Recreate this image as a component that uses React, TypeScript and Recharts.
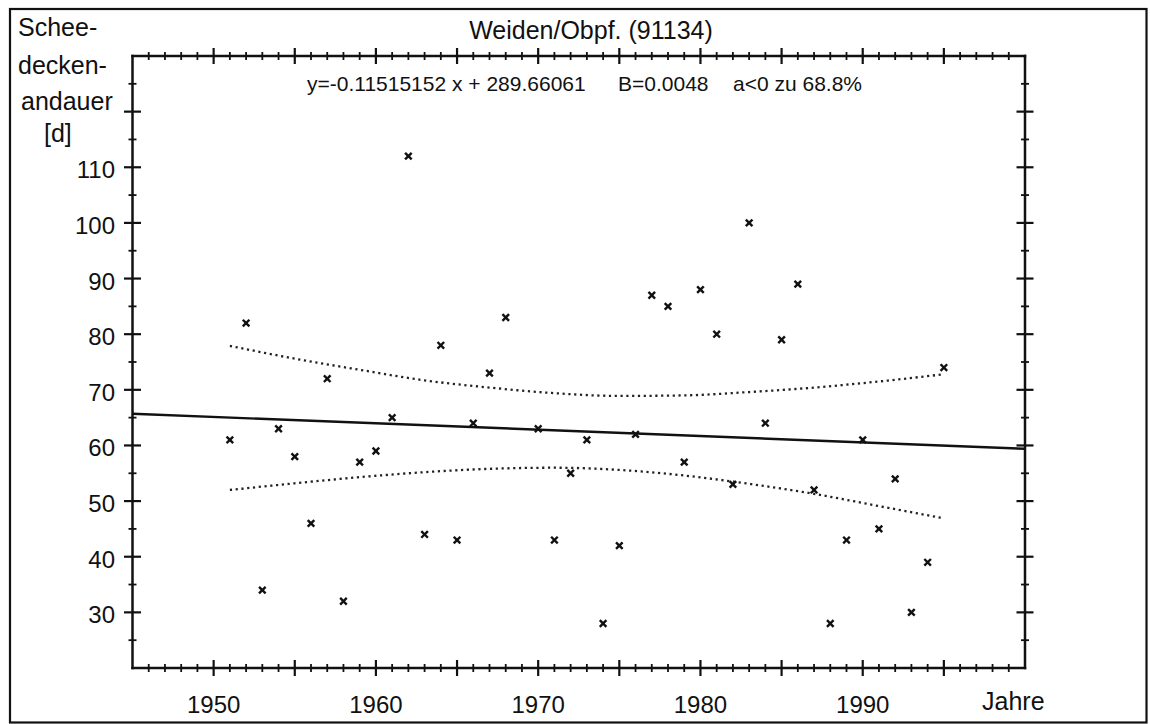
import React from 'react';
import { ComposedChart, XAxis, YAxis, Scatter, Line } from 'recharts';

// ---- data ----
const YEARS = [1951, 1952, 1953, 1954, 1955, 1956, 1957, 1958, 1959, 1960, 1961, 1962, 1963, 1964, 1965, 1966, 1967, 1968, 1970, 1971, 1972, 1973, 1974, 1975, 1976, 1977, 1978, 1979, 1980, 1981, 1982, 1983, 1984, 1985, 1986, 1987, 1988, 1989, 1990, 1991, 1992, 1993, 1994, 1995];
const SNOW_DAYS = [61, 82, 34, 63, 58, 46, 72, 32, 57, 59, 65, 112, 44, 78, 43, 64, 73, 83, 63, 43, 55, 61, 28, 42, 62, 87, 85, 57, 88, 80, 53, 100, 64, 79, 89, 52, 28, 43, 61, 45, 54, 30, 39, 74];

const TREND_YEARS = [1945, 2000];
const TREND_VALUES = [65.7, 59.4];

const BAND_YEARS = [1951, 1955, 1959, 1963, 1967, 1971, 1975, 1979, 1983, 1987, 1991, 1995];
const BAND_UPPER = [77.9, 75.6, 73.6, 71.7, 70.4, 69.4, 68.9, 69.0, 69.6, 70.4, 71.5, 72.8];
const BAND_LOWER = [52.0, 53.2, 54.3, 55.2, 55.8, 56.0, 55.6, 54.6, 53.1, 51.3, 49.1, 46.9];

const X_DOMAIN = [1945, 2000];
const Y_DOMAIN = [20, 130];
const X_TICKS = [1946, 1947, 1948, 1949, 1950, 1951, 1952, 1953, 1954, 1955, 1956, 1957, 1958, 1959, 1960, 1961, 1962, 1963, 1964, 1965, 1966, 1967, 1968, 1969, 1970, 1971, 1972, 1973, 1974, 1975, 1976, 1977, 1978, 1979, 1980, 1981, 1982, 1983, 1984, 1985, 1986, 1987, 1988, 1989, 1990, 1991, 1992, 1993, 1994, 1995, 1996, 1997, 1998, 1999];
const X_LABELS = [1950, 1960, 1970, 1980, 1990];
const Y_TICKS = [25, 30, 35, 40, 45, 50, 55, 60, 65, 70, 75, 80, 85, 90, 95, 100, 105, 110, 115, 120, 125];
const Y_LABELS = [30, 40, 50, 60, 70, 80, 90, 100, 110];

const TITLE = 'Weiden/Obpf. (91134)';
const EQUATION = ['y=-0.11515152 x + 289.66061', 'B=0.0048', 'a<0 zu 68.8%'];
const Y_TITLE = ['Schee-', 'decken-', 'andauer', '[d]'];
const X_TITLE = 'Jahre';

// ---- derived tables ----
const points = YEARS.map((year, i) => ({ year, value: SNOW_DAYS[i] }));
const trend = TREND_YEARS.map((year, i) => ({ year, value: TREND_VALUES[i] }));
const upper = BAND_YEARS.map((year, i) => ({ year, value: BAND_UPPER[i] }));
const lower = BAND_YEARS.map((year, i) => ({ year, value: BAND_LOWER[i] }));

const FONT = '"Liberation Sans", Arial, Helvetica, sans-serif';
const INK = '#111111';

const makeXTick = (side: 'top' | 'bottom') => (p: any) => {
  const { x, y, payload } = p;
  const v = payload.value;
  const major = v % 5 === 0;
  const h = major ? 8 : 4;
  return (
    <g key={`xt-${side}-${v}`}>
      <line x1={x} x2={x} y1={y - h} y2={y + h} stroke={INK} strokeWidth={major ? 2.2 : 1.8} />
      {side === 'bottom' && X_LABELS.includes(v) && (
        <text x={x} y={y + 45} textAnchor="middle" fontSize={24} fontFamily={FONT} fill={INK}>
          {v}
        </text>
      )}
    </g>
  );
};

const makeYTick = (side: 'left' | 'right') => (p: any) => {
  const { x, y, payload } = p;
  const v = payload.value;
  const major = v % 10 === 0;
  const h = major ? 8.5 : 4;
  return (
    <g key={`yt-${side}-${v}`}>
      <line x1={x - h} x2={x + h} y1={y} y2={y} stroke={INK} strokeWidth={major ? 2.2 : 1.8} />
      {side === 'left' && Y_LABELS.includes(v) && (
        <text x={x - 17.5} y={y + 11} textAnchor="end" fontSize={24} fontFamily={FONT} fill={INK}>
          {v}
        </text>
      )}
    </g>
  );
};

const Cross = (p: any) => {
  const { cx, cy } = p;
  if (cx == null || cy == null) return <g />;
  const s = 3.3;
  return (
    <g>
      <line x1={cx - s} y1={cy - s} x2={cx + s} y2={cy + s} stroke={INK} strokeWidth={2.4} />
      <line x1={cx - s} y1={cy + s} x2={cx + s} y2={cy - s} stroke={INK} strokeWidth={2.4} />
    </g>
  );
};

const axisLine = { stroke: INK, strokeWidth: 2.5, strokeLinecap: 'square' as const };

export default function App() {
  return (
    <div style={{ position: 'absolute', left: 0, top: 0, width: 1150, height: 724, background: '#fff' }}>
      <ComposedChart
        width={1150}
        height={724}
        margin={{ top: 55, right: 124, bottom: 55, left: 131.5 }}
      >
        <XAxis
          xAxisId="b"
          dataKey="year"
          type="number"
          orientation="bottom"
          domain={X_DOMAIN}
          allowDataOverflow
          ticks={X_TICKS}
          interval={0}
          height={1}
          tickSize={0}
          tickMargin={0}
          tickLine={false}
          axisLine={axisLine}
          tick={makeXTick('bottom')}
        />
        <XAxis
          xAxisId="t"
          dataKey="year"
          type="number"
          orientation="top"
          domain={X_DOMAIN}
          allowDataOverflow
          ticks={X_TICKS}
          interval={0}
          height={1}
          tickSize={0}
          tickMargin={0}
          tickLine={false}
          axisLine={axisLine}
          tick={makeXTick('top')}
        />
        <YAxis
          yAxisId="l"
          dataKey="value"
          type="number"
          orientation="left"
          domain={Y_DOMAIN}
          allowDataOverflow
          ticks={Y_TICKS}
          interval={0}
          width={1}
          tickSize={0}
          tickMargin={0}
          tickLine={false}
          axisLine={axisLine}
          tick={makeYTick('left')}
        />
        <YAxis
          yAxisId="r"
          dataKey="value"
          type="number"
          orientation="right"
          domain={Y_DOMAIN}
          allowDataOverflow
          ticks={Y_TICKS}
          interval={0}
          width={1}
          tickSize={0}
          tickMargin={0}
          tickLine={false}
          axisLine={axisLine}
          tick={makeYTick('right')}
        />
        <Line
          xAxisId="b"
          yAxisId="l"
          data={upper}
          dataKey="value"
          type="monotone"
          stroke="#222"
          strokeWidth={2.3}
          strokeDasharray="2.2 3.6"
          dot={false}
          activeDot={false}
          isAnimationActive={false}
        />
        <Line
          xAxisId="b"
          yAxisId="l"
          data={lower}
          dataKey="value"
          type="monotone"
          stroke="#222"
          strokeWidth={2.3}
          strokeDasharray="2.2 3.6"
          dot={false}
          activeDot={false}
          isAnimationActive={false}
        />
        <Line
          xAxisId="b"
          yAxisId="l"
          data={trend}
          dataKey="value"
          type="linear"
          stroke={INK}
          strokeWidth={2.4}
          dot={false}
          activeDot={false}
          isAnimationActive={false}
        />
        <Scatter
          xAxisId="b"
          yAxisId="l"
          data={points}
          dataKey="value"
          shape={Cross}
          isAnimationActive={false}
        />
      </ComposedChart>
      <svg
        width={1150}
        height={724}
        style={{ position: 'absolute', left: 0, top: 0, pointerEvents: 'none' }}
      >
        <rect x={10} y={9} width={1136.5} height={713.5} fill="none" stroke={INK} strokeWidth={2.2} />
        <text x={591} y={39} textAnchor="middle" fontSize={25} fontFamily={FONT} fill={INK}>
          {TITLE}
        </text>
        <text x={307} y={91} fontSize={21} fontFamily={FONT} fill={INK}>{EQUATION[0]}</text>
        <text x={618} y={91} fontSize={21} fontFamily={FONT} fill={INK}>{EQUATION[1]}</text>
        <text x={733} y={91} fontSize={21} fontFamily={FONT} fill={INK}>{EQUATION[2]}</text>
        <text x={18} y={36} fontSize={25} fontFamily={FONT} fill={INK}>{Y_TITLE[0]}</text>
        <text x={18} y={74} fontSize={25} fontFamily={FONT} fill={INK}>{Y_TITLE[1]}</text>
        <text x={21} y={110} fontSize={25} fontFamily={FONT} fill={INK}>{Y_TITLE[2]}</text>
        <text x={44} y={142} fontSize={25} fontFamily={FONT} fill={INK}>{Y_TITLE[3]}</text>
        <text x={982} y={710} fontSize={25} fontFamily={FONT} fill={INK}>{X_TITLE}</text>
      </svg>
    </div>
  );
}
